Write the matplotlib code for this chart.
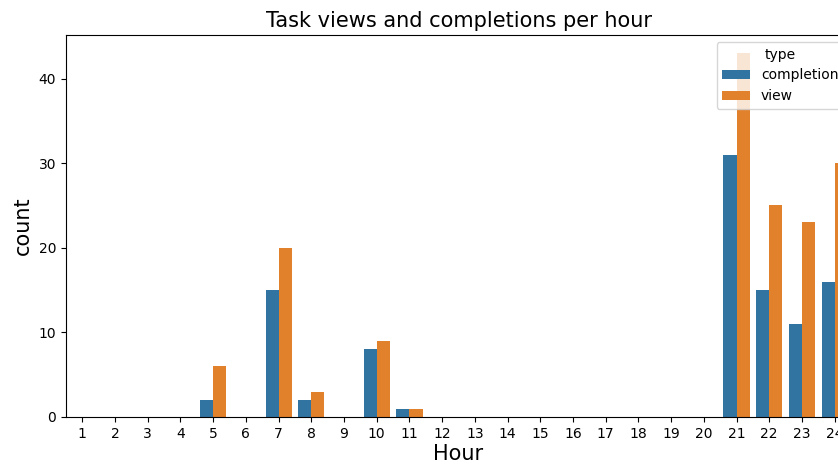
import matplotlib.pyplot as plt
import numpy as np

hours = [str(h) for h in range(1, 25)]
completion = [0, 0, 0, 0, 2, 0, 15, 2, 0, 8, 1, 0, 0, 0, 0, 0, 0, 0, 0, 0, 31, 15, 11, 16]
view = [0, 0, 0, 0, 6, 0, 20, 3, 0, 9, 1, 0, 0, 0, 0, 0, 0, 0, 0, 0, 43, 25, 23, 30]

fig = plt.figure(figsize=(8.38, 4.66), dpi=100)
# the original axes runs past the right edge of the image
ax = fig.add_axes([66 / 838, 49 / 466, 785 / 838, 382 / 466])

x = np.arange(len(hours))
w = 0.4
ax.bar(x - w / 2, completion, w, color="#3274a1", label="completion")
ax.bar(x + w / 2, view, w, color="#e1812c", label="view")

ax.set_xlim(-0.5, len(hours) - 0.5)
ax.set_ylim(0, max(view) * 1.05)
ax.set_xticks(x)
ax.set_xticklabels(hours)
ax.set_yticks([0, 10, 20, 30, 40])
ax.tick_params(labelsize=10)
ax.set_title("Task views and completions per hour", fontsize=15)
ax.set_xlabel("Hour", fontsize=15, labelpad=2)
ax.set_ylabel("count", fontsize=15)
ax.legend(title="type", loc="upper right", fontsize=10, title_fontsize=10)

fig.savefig("out.png", dpi=100)
